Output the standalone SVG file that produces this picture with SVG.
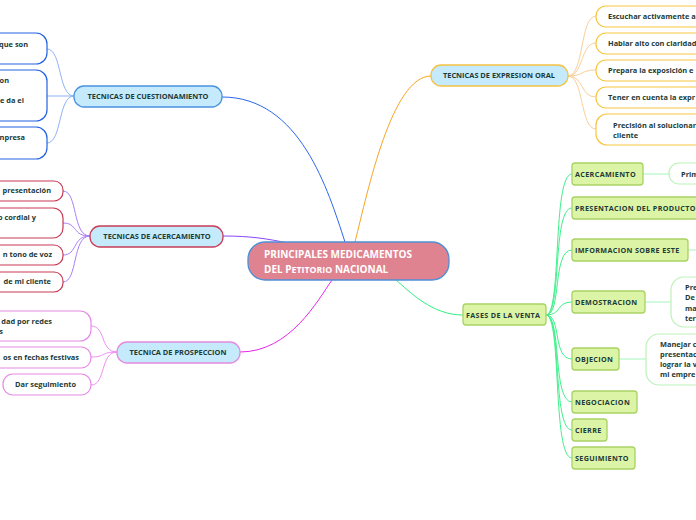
<svg xmlns="http://www.w3.org/2000/svg" width="696" height="520" viewBox="0 0 696 520">
<style>
text{font-family:"Open Sans","Liberation Sans",sans-serif;font-weight:bold;fill:#1c3b37;font-size:7.4px}
.sub{fill:#c5eafb;stroke-width:1.3}
.t{text-anchor:middle}
.e{text-anchor:end}
.g{fill:#dcf4a6;stroke:#a9d265;stroke-width:1.3}
.gt{letter-spacing:0.35px;font-size:7.2px}
.leaf{fill:#fff;stroke-width:1.2}
.c{fill:none;stroke-width:1}
</style>
<rect width="696" height="520" fill="#fff"/>
<g id="connectors">
<path class="c" d="M222,97 C300,97 328,190 345,242" stroke="#2c66ee" stroke-width="1.6"/>
<path class="c" d="M223,236 C252,236 268,239 288,243" stroke="#8a44fb" stroke-width="1.6"/>
<path class="c" d="M240,352 C290,352 318,300 332,280" stroke="#e626e6" stroke-width="1.6"/>
<path class="c" d="M431,76 C392,76 368,190 355,242" stroke="#f8a424" stroke-width="1.6"/>
<path class="c" d="M463,315 C432,315 410,292 396,280" stroke="#2ff07e" stroke-width="1.6"/>
<g stroke="#8fb3f6">
<path class="c" d="M74,96 C58,96 62,49 47,49"/>
<path class="c" d="M74,96 L47,96"/>
<path class="c" d="M74,96 C58,96 62,143 47,143"/>
</g>
<g stroke="#a97ff6">
<path class="c" d="M90,236 C72,236 78,191 63,191"/>
<path class="c" d="M90,236 C72,236 78,223 63,223"/>
<path class="c" d="M90,236 C72,236 78,255 63,255"/>
<path class="c" d="M90,236 C72,236 78,282 63,282"/>
</g>
<g stroke="#f08ef0">
<path class="c" d="M117,352 C100,352 106,326 91,326"/>
<path class="c" d="M117,352 C100,352 106,357 91,357"/>
<path class="c" d="M117,352 C100,352 106,385 91,385"/>
</g>
<g stroke="#f9cf9a">
<path class="c" d="M568,76 C584,76 580,16 596,16"/>
<path class="c" d="M568,76 C584,76 580,43 596,43"/>
<path class="c" d="M568,76 C584,76 580,70 596,70"/>
<path class="c" d="M568,76 C584,76 580,97 596,97"/>
<path class="c" d="M568,76 C584,76 580,129 596,129"/>
</g>
<g stroke="#3ff08a">
<path class="c" d="M546,315 C562,315 552,174 572,174"/>
<path class="c" d="M546,315 C562,315 552,208 572,208"/>
<path class="c" d="M546,315 C562,315 552,250 572,250"/>
<path class="c" d="M546,315 C562,315 556,302 572,302"/>
<path class="c" d="M546,315 C562,315 552,359 572,359"/>
<path class="c" d="M546,315 C562,315 552,402 572,402"/>
<path class="c" d="M546,315 C562,315 552,430 572,430"/>
<path class="c" d="M546,315 C562,315 552,458 572,458"/>
</g>
<g stroke="#a4f5bc">
<path class="c" d="M643,174 L669,174"/>
<path class="c" d="M688,250 L696,250"/>
<path class="c" d="M645,302 L671,302"/>
<path class="c" d="M619,359 L646,359"/>
</g>
</g>
<g id="center">
<rect x="248" y="242" width="201" height="38" rx="17" fill="#df8390" stroke="#4f8fd6" stroke-width="1.3"/>
<text x="264" y="258" style="fill:#fff;font-size:10px">PRINCIPALES MEDICAMENTOS</text>
<text x="264" y="273" style="fill:#fff;font-size:10px">DEL P<tspan style="font-size:8.8px">ETITORIO</tspan> NACIONAL</text>
</g>
<g id="cuestionamiento">
<rect class="sub" x="74" y="86" width="148" height="21" rx="10" stroke="#4a92e0"/>
<text class="t" x="148" y="99">TECNICAS DE CUESTIONAMIENTO</text>
</g>
<g id="cq1"><rect class="leaf" x="-60" y="33" width="107" height="31" rx="11" stroke="#2262e0"/><text class="e" x="28" y="47">que son</text></g>
<g id="cq2"><rect class="leaf" x="-60" y="70" width="107" height="51" rx="11" stroke="#2262e0"/><text class="e" x="9" y="83">on</text><text class="e" x="24" y="103">e da el</text></g>
<g id="cq3"><rect class="leaf" x="-60" y="127" width="107" height="32" rx="11" stroke="#2262e0"/><text class="e" x="25" y="140">npresa</text></g>
<g id="acercamiento">
<rect class="sub" x="90" y="226" width="133" height="21" rx="10" stroke="#c83d57"/>
<text class="t" x="157" y="239">TECNICAS DE ACERCAMIENTO</text>
</g>
<g id="ac1"><rect class="leaf" x="-60" y="181" width="123" height="20" rx="9" stroke="#c73a52"/><text class="e" x="51" y="193">presentación</text></g>
<g id="ac2"><rect class="leaf" x="-60" y="208" width="123" height="30" rx="10" stroke="#c73a52"/><text class="e" x="36" y="220">o cordial y</text></g>
<g id="ac3"><rect class="leaf" x="-60" y="245" width="123" height="20" rx="9" stroke="#c73a52"/><text class="e" x="52" y="257">n tono de voz</text></g>
<g id="ac4"><rect class="leaf" x="-60" y="272" width="123" height="20" rx="9" stroke="#c73a52"/><text class="e" x="51" y="284">de mi cliente</text></g>
<g id="prospeccion">
<rect class="sub" x="117" y="342" width="123" height="21" rx="10" stroke="#e38ae0"/>
<text class="t" x="178" y="355">TECNICA DE PROSPECCION</text>
</g>
<g id="pr1"><rect class="leaf" x="-60" y="311" width="151" height="30" rx="11" stroke="#e58ae6"/><text class="e" x="52" y="324">dad por redes</text><text class="e" x="3" y="334">s</text></g>
<g id="pr2"><rect class="leaf" x="-60" y="347" width="151" height="21" rx="10" stroke="#e58ae6"/><text class="e" x="79" y="360">os en fechas festivas</text></g>
<g id="pr3"><rect class="leaf" x="3" y="374" width="88" height="21" rx="10" stroke="#e58ae6"/><text x="15" y="387">Dar seguimiento</text></g>
<g id="expresion">
<rect class="sub" x="431" y="65" width="137" height="21" rx="10" stroke="#f5c242"/>
<text class="t" x="499" y="78">TECNICAS DE EXPRESION ORAL</text>
</g>
<g id="ex1"><rect class="leaf" x="596" y="6" width="140" height="21" rx="10" stroke="#f7c540"/><text x="608" y="19">Escuchar activamente a</text></g>
<g id="ex2"><rect class="leaf" x="596" y="33" width="140" height="21" rx="10" stroke="#f7c540"/><text x="608" y="46">Hablar alto con claridad</text></g>
<g id="ex3"><rect class="leaf" x="596" y="60" width="140" height="21" rx="10" stroke="#f7c540"/><text x="608" y="73">Prepara la exposición e</text></g>
<g id="ex4"><rect class="leaf" x="596" y="87" width="140" height="21" rx="10" stroke="#f7c540"/><text x="608" y="100">Tener en cuenta la expr</text></g>
<g id="ex5"><rect class="leaf" x="596" y="114" width="140" height="31" rx="11" stroke="#f7c540"/><text x="613" y="128">Precisión al solucionar</text><text x="613" y="138">cliente</text></g>
<g id="fases">
<rect class="g" x="463" y="304" width="83" height="21" rx="3"/>
<text class="gt" x="466" y="318">FASES DE LA VENTA</text>
</g>
<g id="f1"><rect class="g" x="572" y="163" width="71" height="22" rx="3"/><text class="gt" x="575" y="177">ACERCAMIENTO</text></g>
<g id="f2"><rect class="g" x="572" y="197" width="140" height="22" rx="3"/><text class="gt" x="575" y="211">PRESENTACION DEL PRODUCTO</text></g>
<g id="f3"><rect class="g" x="572" y="239" width="116" height="22" rx="3"/><text class="gt" x="575" y="253">IMFORMACION SOBRE ESTE</text></g>
<g id="f4"><rect class="g" x="572" y="291" width="73" height="22" rx="3"/><text class="gt" x="575" y="305">DEMOSTRACION</text></g>
<g id="f5"><rect class="g" x="572" y="348" width="47" height="22" rx="3"/><text class="gt" x="575" y="362">OBJECION</text></g>
<g id="f6"><rect class="g" x="572" y="391" width="65" height="22" rx="3"/><text class="gt" x="575" y="405">NEGOCIACION</text></g>
<g id="f7"><rect class="g" x="572" y="419" width="35" height="22" rx="3"/><text class="gt" x="575" y="433">CIERRE</text></g>
<g id="f8"><rect class="g" x="572" y="447" width="63" height="22" rx="3"/><text class="gt" x="575" y="461">SEGUIMIENTO</text></g>
<g id="fl1"><rect class="leaf" x="669" y="163" width="80" height="21" rx="10" stroke="#bdf2b8"/><text x="681" y="177">Prim</text></g>
<g id="fl2"><rect class="leaf" x="671" y="277" width="80" height="50" rx="13" stroke="#bdf2b8"/><text x="685" y="290">Pre</text><text x="685" y="300">De</text><text x="685" y="311">ma</text><text x="685" y="321">ter</text></g>
<g id="fl3"><rect class="leaf" x="646" y="334" width="80" height="51" rx="13" stroke="#bdf2b8"/><text x="660" y="347">Manejar c</text><text x="660" y="357">presentac</text><text x="660" y="367">lograr la v</text><text x="660" y="377">mi empre</text></g>
</svg>
